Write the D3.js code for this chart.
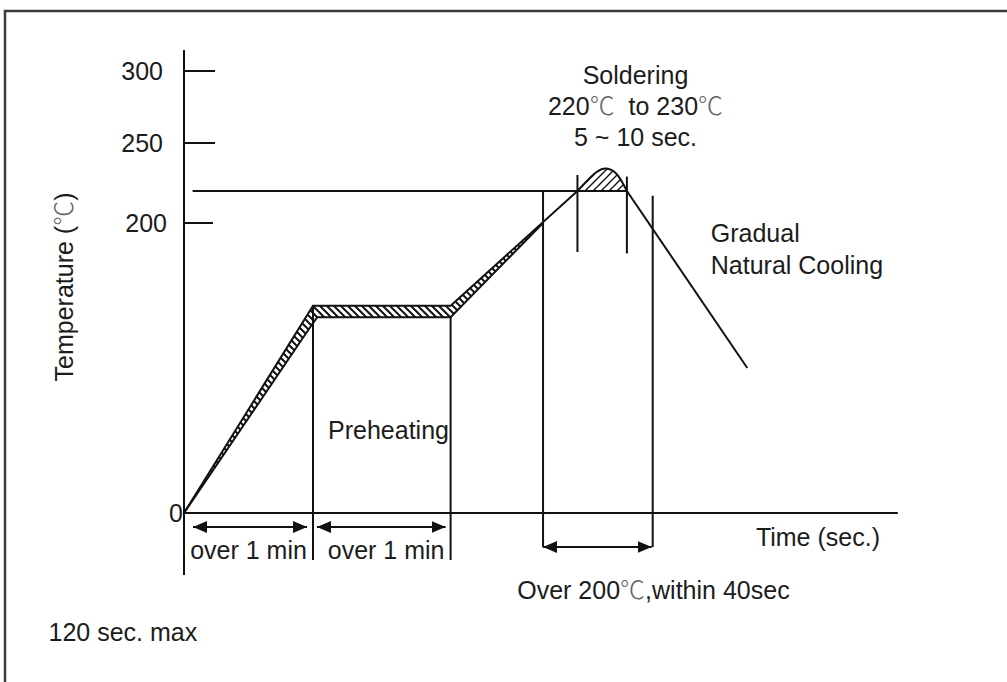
<!DOCTYPE html>
<meta charset="UTF-8">
<style>
body { margin: 0; background: #fff; }
text {
  font-family: "Liberation Sans", Arial, "Noto Sans CJK SC", sans-serif;
  font-size: 25px;
  fill: #1c1c1c;
  white-space: pre;
}
.deg { font-family: "Noto Sans CJK SC", "DejaVu Sans", sans-serif; fill: #666; font-weight: 300; }
.line { fill: none; stroke: #111; stroke-width: 2px; }
</style>
<body>
<script src="https://d3js.org/d3.v7.min.js"></script>
<script>

// y tick labels drawn on the axis
var tickTemps = [300, 250, 200, 0];

// upper edge of the reflow profile band (time sec, temp C)
var upperTime = [0, 60, 124, 183];
var upperTemp = [0, 143, 143, 220];
// lower edge of the band
var lowerTime = [0, 60, 62, 124, 167];
var lowerTemp = [0, 131, 135, 135, 200];
// soldering peak above the 220 line
var peakTime = [183, 188, 192, 196, 201, 206];
var peakTemp = [220, 227, 232, 234, 231, 220];
// natural cooling
var coolTime = [206, 262];
var coolTemp = [220, 100];

// vertical guide lines: time, top temp, bottom (temp, or px below the zero line)
var guideTime = [60, 124, 167, 183, 206, 218];
var guideTop  = [143, 135, 220, 230, 229, 217];
var guideBottom = [null, null, null, 180, 179, null];
var guideDrop = [47, 47, 34, 0, 0, 34];

// dimension arrows: start, end (sec)
var arrowStart = [0, 60, 167];
var arrowEnd   = [60, 124, 218];

var width = 1007, height = 682;

var svg = d3.select("body").append("svg")
    .attr("width", width)
    .attr("height", height);

var x = d3.scaleLinear().domain([0, 60]).range([184, 313]);
var y = d3.scaleLinear().domain([0, 200, 250, 300]).range([513, 223, 143, 71]);

var defs = svg.append("defs");

defs.append("pattern")
    .attr("id", "hatchBack")
    .attr("patternUnits", "userSpaceOnUse")
    .attr("width", 7).attr("height", 7)
  .append("path")
    .attr("d", "M -1 -1 L 8 8 M -8 -1 L 1 8 M 6 -1 L 15 8")
    .attr("stroke", "#111").attr("stroke-width", 2);

defs.append("pattern")
    .attr("id", "hatchFwd")
    .attr("patternUnits", "userSpaceOnUse")
    .attr("width", 8).attr("height", 8)
  .append("path")
    .attr("d", "M -1 9 L 9 -1 M -9 9 L 1 -1 M 7 9 L 17 -1")
    .attr("stroke", "#111").attr("stroke-width", 1.4);

// frame
svg.append("rect")
    .attr("x", 5).attr("y", 11)
    .attr("width", 1010).attr("height", 690)
    .attr("fill", "none")
    .attr("stroke", "#3c3c3c")
    .attr("stroke-width", 2.5);

var upper = d3.zip(upperTime, upperTemp);
var lower = d3.zip(lowerTime, lowerTemp);
var peak = d3.zip(peakTime, peakTemp);
var cool = d3.zip(coolTime, coolTemp);

var line = d3.line()
    .x(function(d) { return x(d[0]); })
    .y(function(d) { return y(d[1]); });

// hatched band between upper and lower edge
var lowerOnUpper = lower.concat([[upperTime[3], upperTemp[3]]]);
svg.append("path")
    .attr("d", line(upper.concat(lowerOnUpper.slice().reverse())) + "Z")
    .attr("fill", "url(#hatchBack)")
    .attr("stroke", "none");

// hatched peak
var curve = d3.line()
    .x(function(d) { return x(d[0]); })
    .y(function(d) { return y(d[1]); })
    .curve(d3.curveMonotoneX);

svg.append("path")
    .attr("d", curve(peak) + "Z")
    .attr("fill", "url(#hatchFwd)")
    .attr("stroke", "none");

// 220 C reference line
svg.append("line")
    .attr("class", "line")
    .attr("x1", x(4)).attr("x2", x(peakTime[peakTime.length - 1]))
    .attr("y1", y(220)).attr("y2", y(220));

// axes
svg.append("line")
    .attr("class", "line")
    .attr("x1", x(0)).attr("x2", x(0))
    .attr("y1", y(300) - 21).attr("y2", y(0) + 62);

svg.append("line")
    .attr("class", "line")
    .attr("x1", x(0)).attr("x2", x(332))
    .attr("y1", y(0)).attr("y2", y(0));

svg.selectAll(".tick")
    .data(tickTemps.filter(function(d) { return d > 0; }))
  .enter().append("line")
    .attr("class", "line")
    .attr("x1", x(0))
    .attr("x2", function(d) { return d == 200 ? x(0) + 29 : x(0) + 31; })
    .attr("y1", function(d) { return y(d); })
    .attr("y2", function(d) { return y(d); });

svg.selectAll(".tickLabel")
    .data(tickTemps)
  .enter().append("text")
    .attr("x", function(d) { return d == 0 ? x(0) - 1 : (d == 200 ? x(0) - 17 : x(0) - 21); })
    .attr("y", function(d) { return y(d); })
    .attr("dy", "0.35em")
    .attr("text-anchor", "end")
    .text(function(d) { return d; });

// guide lines
svg.selectAll(".guide")
    .data(guideTime)
  .enter().append("line")
    .attr("class", "line")
    .attr("x1", function(d) { return x(d); })
    .attr("x2", function(d) { return x(d); })
    .attr("y1", function(d, i) { return y(guideTop[i]); })
    .attr("y2", function(d, i) {
        return guideBottom[i] != null ? y(guideBottom[i]) : y(0) + guideDrop[i];
    });

// profile lines
svg.append("path").attr("class", "line").attr("d", line(upper));
svg.append("path").attr("class", "line").attr("d", line(lower));
svg.append("path").attr("class", "line").attr("d", curve(peak));
svg.append("path").attr("class", "line").attr("d", line(cool));

// dimension arrows
defs.append("marker")
    .attr("id", "head")
    .attr("viewBox", "0 0 14 12")
    .attr("refX", 14).attr("refY", 6)
    .attr("markerWidth", 14).attr("markerHeight", 12)
    .attr("markerUnits", "userSpaceOnUse")
    .attr("orient", "auto-start-reverse")
  .append("path")
    .attr("d", "M0,0 L14,6 L0,12 Z")
    .attr("fill", "#111");

var arrowY = [14, 14, 34];
var arrowPad = [[9, 6], [4, 5], [0, 1]];
svg.selectAll(".arrow")
    .data(arrowStart)
  .enter().append("line")
    .attr("class", "line")
    .attr("x1", function(d, i) { return x(d) + arrowPad[i][0]; })
    .attr("x2", function(d, i) { return x(arrowEnd[i]) - arrowPad[i][1]; })
    .attr("y1", function(d, i) { return y(0) + arrowY[i]; })
    .attr("y2", function(d, i) { return y(0) + arrowY[i]; })
    .attr("marker-start", "url(#head)")
    .attr("marker-end", "url(#head)");

// text with the degree sign set in a lighter CJK face, as in the scan
function degText(sel, s) {
  var parts = s.split("℃");
  parts.forEach(function(p, i) {
    sel.append("tspan").text(p);
    if (i < parts.length - 1) sel.append("tspan").attr("class", "deg").text("℃");
  });
}

// labels
var ylab = svg.append("text")
    .attr("transform", "translate(64,287) rotate(-90)")
    .attr("text-anchor", "middle")
    .attr("dy", "0.35em");
degText(ylab, "Temperature (℃)");

var labels = [
  {t: "over 1 min", tx: 30, dy: 37, anchor: "middle"},
  {t: "over 1 min", tx: 94, dy: 37, anchor: "middle"},
  {t: "Time (sec.)", tx: 266, dy: 24, anchor: "start"},
  {t: "Over 200℃,within 40sec", tx: 155, dy: 77, anchor: "start"},
  {t: "120 sec. max", tx: -63, dy: 119, anchor: "start"}
];

svg.selectAll(".lbl")
    .data(labels)
  .enter().append("text")
    .attr("x", function(d) { return x(d.tx); })
    .attr("y", function(d) { return y(0) + d.dy; })
    .attr("dy", "0.35em")
    .attr("text-anchor", function(d) { return d.anchor; })
    .each(function(d) { degText(d3.select(this), d.t); });

svg.append("text")
    .attr("x", x(67)).attr("y", y(57))
    .attr("dy", "0.35em")
    .text("Preheating");

svg.append("text")
    .attr("x", x(245)).attr("y", y(193))
    .attr("dy", "0.35em")
    .text("Gradual");
svg.append("text")
    .attr("x", x(245)).attr("y", y(171))
    .attr("dy", "0.35em")
    .text("Natural Cooling");

var solder = ["Soldering", "220℃\u00A0\u00A0to 230℃", "5 ~ 10 sec."];
svg.selectAll(".sol")
    .data(solder)
  .enter().append("text")
    .attr("x", x(210))
    .attr("y", function(d, i) { return 75 + i * 31; })
    .attr("dy", "0.35em")
    .attr("text-anchor", "middle")
    .each(function(d) { degText(d3.select(this), d); });

</script>
</body>
